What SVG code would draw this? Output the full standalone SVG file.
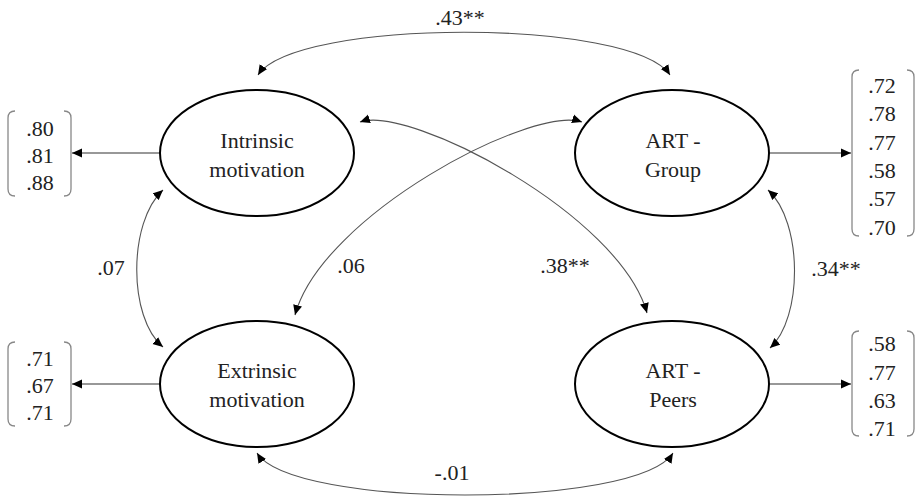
<svg xmlns="http://www.w3.org/2000/svg" width="919" height="500" viewBox="0 0 919 500">
<defs>
<marker id="ah" viewBox="0 0 10 10" refX="10" refY="5" markerWidth="10" markerHeight="10" markerUnits="userSpaceOnUse" orient="auto-start-reverse">
<path d="M0,0.5 L10,5 L0,9.5 Z" fill="#000"/>
</marker>
<style>
text{font-family:"Liberation Serif","DejaVu Serif",serif;font-size:22px;fill:#222;text-anchor:middle}
.node ellipse{fill:#fff;stroke:#000;stroke-width:2}
.br{fill:none;stroke:#888;stroke-width:1.3}
.c{fill:none;stroke:#555;stroke-width:1.1;marker-start:url(#ah);marker-end:url(#ah)}
.a{fill:none;stroke:#333;stroke-width:1.1;marker-end:url(#ah)}
</style>
</defs>
<rect width="919" height="500" fill="#fff"/>
<g id="connectors">
<path class="c" d="M258,75 C295,18 633,18 670,75"/>
<path class="c" d="M257,453 C292,509 638,509 673,453"/>
<path class="c" d="M163,190 C128,222 128,318 163,347"/>
<path class="c" d="M768,190 C803,222 803,318 770,348"/>
<path class="c" d="M360,122 C410,105 620,215 647,313"/>
<path class="c" d="M295,315 C322,215 532,105 582,122"/>
<path class="a" d="M160,153 L72,153"/>
<path class="a" d="M160,384 L72,384"/>
<path class="a" d="M770,153 L851,153"/>
<path class="a" d="M770,384 L851,384"/>
<text x="460" y="25">.43**</text>
<text x="452" y="480">-.01</text>
<text x="111" y="275">.07</text>
<text x="351" y="273">.06</text>
<text x="565" y="273">.38**</text>
<text x="836" y="276">.34**</text>
</g>
<g id="intrinsic" class="node">
<ellipse cx="257" cy="153" rx="97" ry="63"/>
<text x="257" y="148">Intrinsic</text>
<text x="257" y="177">motivation</text>
</g>
<g id="art-group" class="node">
<ellipse cx="672" cy="153" rx="97" ry="63"/>
<text x="673" y="148">ART -</text>
<text x="673" y="177">Group</text>
</g>
<g id="extrinsic" class="node">
<ellipse cx="257" cy="384" rx="97" ry="63"/>
<text x="257" y="378">Extrinsic</text>
<text x="257" y="407">motivation</text>
</g>
<g id="art-peers" class="node">
<ellipse cx="672" cy="384" rx="97" ry="63"/>
<text x="673" y="378">ART -</text>
<text x="673" y="407">Peers</text>
</g>
<g id="loadings-intrinsic">
<path class="br" d="M15,111 Q8,111 8,118 L8,189 Q8,196 15,196"/>
<path class="br" d="M64,111 Q71,111 71,118 L71,189 Q71,196 64,196"/>
<text x="40" y="136">.80</text>
<text x="40" y="163">.81</text>
<text x="40" y="190">.88</text>
</g>
<g id="loadings-extrinsic">
<path class="br" d="M15,342 Q8,342 8,349 L8,419 Q8,426 15,426"/>
<path class="br" d="M64,342 Q71,342 71,349 L71,419 Q71,426 64,426"/>
<text x="40" y="366">.71</text>
<text x="40" y="393">.67</text>
<text x="40" y="420">.71</text>
</g>
<g id="loadings-group">
<path class="br" d="M859,70 Q852,70 852,77 L852,229 Q852,236 859,236"/>
<path class="br" d="M907,70 Q914,70 914,77 L914,229 Q914,236 907,236"/>
<text x="882" y="93">.72</text>
<text x="882" y="121">.78</text>
<text x="882" y="150">.77</text>
<text x="882" y="178">.58</text>
<text x="882" y="206">.57</text>
<text x="882" y="235">.70</text>
</g>
<g id="loadings-peers">
<path class="br" d="M859,331 Q852,331 852,338 L852,429 Q852,436 859,436"/>
<path class="br" d="M907,331 Q914,331 914,338 L914,429 Q914,436 907,436"/>
<text x="882" y="351">.58</text>
<text x="882" y="380">.77</text>
<text x="882" y="408">.63</text>
<text x="882" y="436">.71</text>
</g>
</svg>
